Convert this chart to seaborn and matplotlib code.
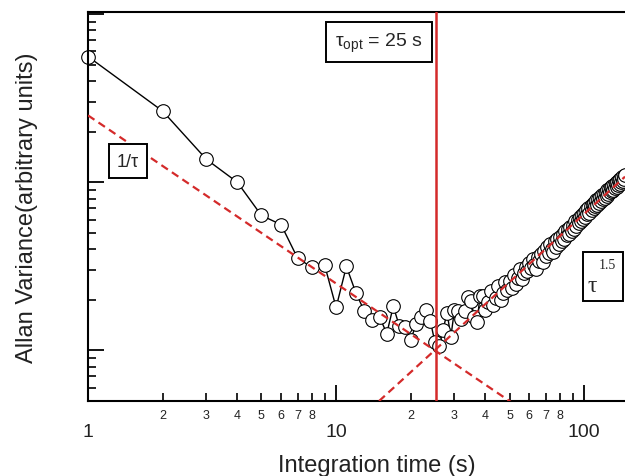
import numpy as np
import pandas as pd
import matplotlib
matplotlib.use("Agg")
import matplotlib.pyplot as plt
import seaborn as sns
from matplotlib.patches import Rectangle
from matplotlib.ticker import FixedLocator, FixedFormatter, NullFormatter

# integration time (s) and Allan variance (arbitrary units)
tau = list(range(1, 147))
allan = [
    56, 26.5, 13.7, 10.0, 6.35, 5.6, 3.53, 3.12, 3.2, 1.80,
    3.16, 2.21, 1.71, 1.51, 1.57, 1.26, 1.83, 1.39, 1.37, 1.16,
    1.43, 1.57, 1.75, 1.49, 1.12, 1.06, 1.33, 1.68, 1.20, 1.75,
    1.71, 1.53, 1.71, 2.07, 1.96, 1.59, 1.47, 2.10,
    2.10, 1.75, 1.95, 2.25, 1.85, 2.05, 2.40, 2.00, 2.20, 2.55,
    2.30, 2.60, 2.35, 2.80, 2.50, 2.70, 3.05, 2.65, 2.90, 3.15,
    2.95, 3.30, 3.10, 3.50, 3.20, 3.05, 3.60, 3.40, 3.75, 3.35,
    3.90, 3.65, 4.10, 3.80, 4.30, 4.00, 3.85, 4.45, 4.15, 4.60,
    4.30, 4.75, 4.50, 4.95, 4.60, 5.10, 4.85, 5.30, 4.90, 5.45,
    5.15, 5.60, 5.30, 5.85, 5.50, 6.00, 5.70, 6.20, 5.85, 6.40,
    6.05, 6.60, 6.25, 6.85, 6.45, 7.05, 6.60, 7.20, 6.85, 7.40,
    7.00, 7.55, 7.20, 7.80, 7.35, 8.00, 7.55, 8.20, 7.75, 8.40,
    7.95, 8.55, 8.10, 8.75, 8.30, 8.95, 8.50, 9.15, 8.70, 9.35,
    8.85, 9.50, 9.05, 9.70, 9.25, 9.90, 9.40, 10.10, 9.60, 10.30,
    9.80, 10.50, 10.00, 10.70, 10.20, 10.90, 10.40, 11.10,
]

# guide lines (end points)
white_x = [1, 51]
white_y = [25, 0.49]
drift_x = [14.9, 146]
drift_y = [0.5, 10.8]
tau_opt = 25.3

x_major = [1, 10, 100]
x_major_labels = ["1", "10", "100"]
x_minor = [2, 3, 4, 5, 6, 7, 8, 9, 20, 30, 40, 50, 60, 70, 80, 90]
x_minor_labels = ["2", "3", "4", "5", "6", "7", "8", "", "2", "3", "4", "5", "6", "7", "8", ""]
y_major = [1, 10, 100]
y_minor = [0.6, 0.7, 0.8, 0.9, 2, 3, 4, 5, 6, 7, 8, 9, 20, 30, 40, 50, 60, 70, 80, 90]

df = pd.DataFrame({"tau": tau, "allan": allan})

sns.set_style("ticks")
plt.rcParams["font.family"] = ["Liberation Sans", "DejaVu Sans"]
plt.rcParams["mathtext.fontset"] = "custom"
plt.rcParams["mathtext.rm"] = "Liberation Sans"
plt.rcParams["mathtext.it"] = "Liberation Sans:italic"

red = "#d42a2a"
fig = plt.figure(figsize=(6.25, 4.77), dpi=100)
ax = fig.add_axes([0.1408, 0.1572, 0.8592, 0.8155])

sns.lineplot(data=df, x="tau", y="allan", ax=ax, sort=False, estimator=None,
             color="black", lw=1.0, marker="o", markersize=9.8,
             markerfacecolor="white", markeredgecolor="black", markeredgewidth=0.8,
             zorder=2, clip_on=False)

ax.plot(white_x, white_y, color=red, lw=1.6, ls=(0, (3.5, 2.2)), zorder=3)
ax.plot(drift_x, drift_y, color=red, lw=1.6, ls=(0, (3.5, 2.2)), zorder=3)
ax.axvline(tau_opt, color=red, lw=1.8, zorder=4)

ax.set_xscale("log")
ax.set_yscale("log")
ax.set_xlim(1, 146)
ax.set_ylim(0.5, 103)

ax.xaxis.set_major_locator(FixedLocator(x_major))
ax.xaxis.set_major_formatter(FixedFormatter(x_major_labels))
ax.xaxis.set_minor_locator(FixedLocator(x_minor))
ax.xaxis.set_minor_formatter(FixedFormatter(x_minor_labels))
ax.yaxis.set_major_locator(FixedLocator(y_major))
ax.yaxis.set_major_formatter(NullFormatter())
ax.yaxis.set_minor_locator(FixedLocator(y_minor))
ax.yaxis.set_minor_formatter(NullFormatter())

ax.tick_params(which="both", direction="in", colors="black", top=False, right=False)
ax.tick_params(which="major", length=11.5, width=1.3)
ax.tick_params(which="minor", length=6, width=1.2)
ax.tick_params(axis="x", which="major", pad=16, labelsize=14, labelcolor="#222222")
ax.tick_params(axis="x", which="minor", pad=6, labelsize=9, labelcolor="#222222")

for side in ["left", "bottom", "top"]:
    ax.spines[side].set_linewidth(1.5)
    ax.spines[side].set_color("black")
ax.spines["right"].set_visible(False)

ax.set_xlabel("Integration time (s)", fontsize=17, color="#222222")
ax.set_ylabel("Allan Variance(arbitrary units)", fontsize=17, color="#222222")
ax.xaxis.set_label_coords(0.538, -0.136)
ax.yaxis.set_label_coords(-0.093, 0.499)

box = dict(boxstyle="square,pad=0.45", fc="white", ec="black", lw=1.4)
ax.text(0.0745, 0.617, "1/\u03c4", transform=ax.transAxes, fontsize=13,
        ha="center", va="center", bbox=box, zorder=5)
ax.text(0.542, 0.923, "\u03c4$_{\\rm opt}$ = 25 s", transform=ax.transAxes, fontsize=14,
        ha="center", va="center", bbox=dict(boxstyle="square,pad=0.45", fc="white", ec="black", lw=1.4),
        zorder=5)

# tau^1.5 label: tall box with a raised exponent
ax.add_patch(Rectangle((0.922, 0.257), 0.074, 0.126, transform=ax.transAxes,
                       fc="white", ec="black", lw=1.4, zorder=5, clip_on=False))
ax.text(0.939, 0.298, "\u03c4", transform=ax.transAxes, fontsize=17,
        family="Liberation Serif", ha="center", va="center", zorder=6)
ax.text(0.967, 0.350, "1.5", transform=ax.transAxes, fontsize=10,
        family="Liberation Serif", ha="center", va="center", zorder=6)

fig.savefig("out.png", dpi=100)
